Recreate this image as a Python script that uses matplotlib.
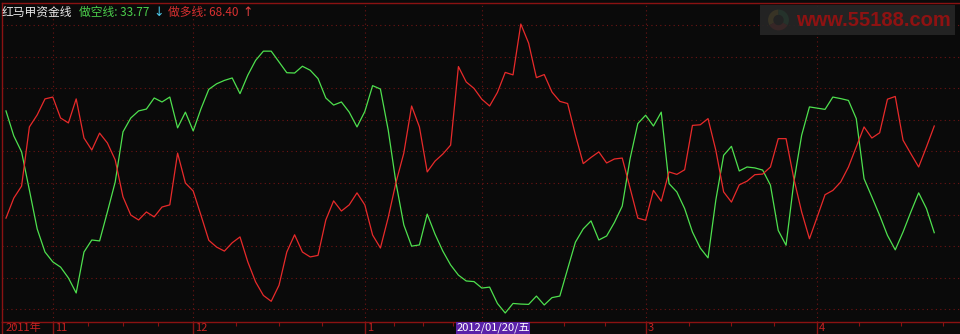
import numpy as np
import matplotlib.pyplot as plt
from matplotlib.patches import Rectangle

plt.rcParams['font.family'] = ['Noto Sans CJK SC', 'DejaVu Sans']

# 做多线 (red) and 做空线 (green), one value per trading day, Oct 2011 - Apr 2012
long_line = [38.5, 45.0, 48.9, 68.1, 72.0, 77.2, 77.8, 71.0, 69.4, 77.2,
             64.5, 60.6, 66.1, 62.9, 57.4, 45.4, 39.5, 37.9, 40.5, 38.9,
             42.1, 42.8, 59.6, 49.9, 47.3, 39.4, 31.3, 29.1, 27.8, 30.5,
             32.4, 24.3, 17.8, 13.4, 11.5, 16.7, 27.5, 33.1, 27.5, 25.9,
             26.4, 37.9, 44.1, 40.8, 42.8, 46.7, 42.8, 33.0, 28.8, 38.7,
             50.1, 59.6, 74.9, 68.1, 53.5, 57.0, 59.3, 62.2, 87.7, 82.7,
             80.6, 77.1, 74.9, 79.3, 85.8, 85.0, 101.5, 95.3, 84.1, 85.1,
             79.4, 76.4, 75.7, 65.5, 56.2, 58.2, 60.0, 56.4, 57.7, 58.0,
             48.3, 38.5, 37.8, 47.5, 44.0, 53.5, 52.7, 54.2, 68.6, 68.8,
             70.8, 60.5, 47.0, 43.7, 49.3, 50.5, 52.6, 52.8, 55.1, 64.3,
             64.3, 51.3, 40.5, 31.8, 38.9, 46.1, 47.5, 50.2, 55.1, 61.6,
             68.1, 64.5, 66.2, 77.1, 78.0, 63.8, 59.4, 55.1, 61.6, 68.40]

short_line = [73.3, 65.2, 60.0, 47.6, 35.0, 27.5, 24.3, 22.6, 19.1, 14.2,
              27.5, 31.4, 31.1, 40.5, 50.2, 66.5, 71.0, 73.3, 73.9, 77.5,
              76.2, 77.8, 67.8, 72.9, 66.8, 74.0, 80.3, 82.1, 83.2, 84.0,
              78.9, 84.9, 89.7, 92.7, 92.7, 89.2, 85.7, 85.6, 87.8, 86.5,
              83.8, 77.5, 75.2, 76.2, 72.9, 68.1, 73.1, 81.5, 80.4, 67.1,
              49.9, 36.3, 29.4, 29.8, 39.8, 33.3, 27.8, 23.3, 20.0, 18.1,
              17.9, 15.8, 16.1, 10.8, 7.7, 10.8, 10.6, 10.5, 13.2, 10.3,
              12.7, 13.2, 22.0, 30.7, 35.0, 37.6, 31.4, 32.7, 37.1, 42.4,
              57.7, 69.2, 71.9, 68.4, 72.9, 49.7, 47.0, 41.6, 34.0, 28.8,
              25.6, 44.4, 58.9, 61.8, 53.8, 55.1, 54.8, 54.1, 49.2, 34.5,
              29.7, 50.2, 65.4, 74.6, 74.2, 73.8, 77.8, 77.3, 76.7, 70.8,
              51.3, 45.4, 39.4, 32.9, 28.2, 34.0, 40.5, 46.7, 41.6, 33.77]

# month boundaries (bar index) and their labels
month_pos = [6, 24, 46, 61, 82, 104]
month_labels = ['11', '12', '1', '', '3', '4']
year_label = '2011年'
cursor_pos = 58
cursor_label = '2012/01/20/五'

title = '红马甲资金线'
short_name = '做空线'
long_name = '做多线'

bg = '#0a0a0a'
dark_red = '#8a1212'
grid_red = '#6e1414'

W, H = 960, 334
fig = plt.figure(figsize=(W / 100, H / 100), dpi=100, facecolor=bg)
ax = fig.add_axes([2 / W, 12 / H, 958 / W, 319 / H], facecolor=bg)

x = np.arange(len(long_line))
ax.set_xlim(-0.51, 122.3)
ax.set_ylim(4.78, 108.33)

# dotted grid
for v in 49.9 + 10.25 * np.arange(-4, 6):
    ax.axhline(v, color=grid_red, lw=0.8, ls=(0, (1, 3)), zorder=1)
for m in month_pos:
    ax.axvline(m, color=grid_red, lw=0.8, ls=(0, (1, 3)), zorder=1)

ax.plot(x, short_line, color='#4ee04e', lw=0.9, zorder=3)
ax.plot(x, long_line, color='#e82a2a', lw=0.9, zorder=3)

for s in ['left', 'top', 'bottom']:
    ax.spines[s].set_color(dark_red)
    ax.spines[s].set_linewidth(1.0)
ax.spines['right'].set_visible(False)

# small ticks: each month split in four
ticks = [1.0]
bounds = month_pos + [month_pos[-1] + 21.5]
for a, b in zip(bounds[:-1], bounds[1:]):
    ticks += [a + (b - a) * k / 4 for k in range(1, 4)]
ax.set_xticks(ticks)
ax.set_xticklabels([])
ax.set_yticks([])
ax.tick_params(axis='x', length=3, width=0.8, color=dark_red, direction='out')

xt = ax.get_xaxis_transform()
lab_red = '#c42222'
lab_y = -0.0345
ax.plot([-0.45, -0.45], [0, -0.04], color=dark_red, lw=1.0, transform=xt, clip_on=False)
ax.text(-0.1, lab_y, year_label, transform=xt, color=lab_red, fontsize=8,
        ha='left', va='bottom')
for m, lab in zip(month_pos, month_labels):
    ax.plot([m, m], [0, -0.04], color=dark_red, lw=1.0, transform=xt, clip_on=False)
    ax.text(m + 0.25, lab_y, lab, transform=xt, color=lab_red, fontsize=8,
            ha='left', va='bottom')

ax.text(cursor_pos - 0.3, lab_y, cursor_label, transform=xt, color='white',
        fontsize=8, ha='left', va='bottom', zorder=10,
        bbox=dict(boxstyle='square,pad=0.05', fc='#5a22a8', ec='none'))


def fx(px):
    return px / W


def fy(py):
    return 1 - py / H


# legend line at the top
fig.text(fx(2), fy(12), title, color='#e8e8e8', fontsize=8.5, va='center')
fig.text(fx(79), fy(12), f'{short_name}: {short_line[-1]:.2f}', color='#4ccf4c',
         fontsize=8.5, va='center')
fig.text(fx(153), fy(12), '↓', color='#4cc8e8', fontsize=9, va='center',
         family=['DejaVu Sans'])
fig.text(fx(168), fy(12), f'{long_name}: {long_line[-1]:.2f}', color='#d83030',
         fontsize=8.5, va='center')
fig.text(fx(242), fy(12), '↑', color='#e04040', fontsize=9, va='center',
         family=['DejaVu Sans'])

# 55188 watermark
fig.patches.append(Rectangle((fx(760), fy(35)), 195 / W, 30 / H, transform=fig.transFigure,
                             fc='#262626', ec='none', alpha=0.9, zorder=5))
fig.text(fx(796), fy(20), 'www.55188.com', color='#8e1212', fontsize=14.5,
         fontweight='bold', family=['Liberation Sans'], va='center', zorder=6)
lax = fig.add_axes([fx(765), fy(33), 27 / W, 26 / H])
lax.pie([1, 1, 1], colors=['#e0b020', '#d02828', '#20a058'], startangle=90,
        wedgeprops=dict(width=0.5, edgecolor='none'))
lax.set_aspect('equal')
lax.axis('off')

fig.savefig('out.png', dpi=100, facecolor=bg)
